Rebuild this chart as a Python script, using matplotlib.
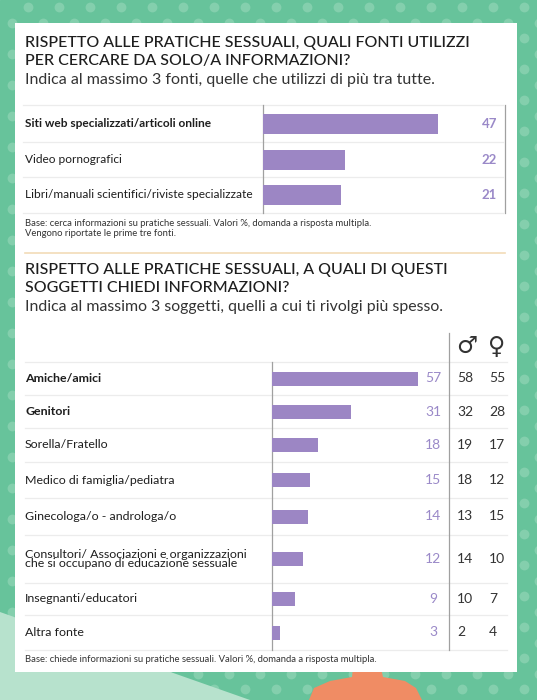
import matplotlib
matplotlib.use("Agg")
import matplotlib.pyplot as plt
from matplotlib.patches import Rectangle, Polygon
import numpy as np

# ---------------- data ----------------
top_categories = [
    "Siti web specializzati/articoli online",
    "Video pornografici",
    "Libri/manuali scientifici/riviste specializzate",
]
top_values = [47, 22, 21]

bottom_categories = [
    "Amiche/amici",
    "Genitori",
    "Sorella/Fratello",
    "Medico di famiglia/pediatra",
    "Ginecologa/o - androloga/o",
    "Consultori/ Associazioni e organizzazioni\nche si occupano di educazione sessuale",
    "Insegnanti/educatori",
    "Altra fonte",
]
bottom_values = [57, 31, 18, 15, 14, 12, 9, 3]
male_values = [58, 32, 19, 18, 13, 14, 10, 2]
female_values = [55, 28, 17, 12, 15, 10, 7, 4]

title1 = ["RISPETTO ALLE PRATICHE SESSUALI, QUALI FONTI UTILIZZI",
          "PER CERCARE DA SOLO/A INFORMAZIONI?"]
subtitle1 = "Indica al massimo 3 fonti, quelle che utilizzi di più tra tutte."
note1 = ["Base: cerca informazioni su pratiche sessuali. Valori %, domanda a risposta multipla.",
         "Vengono riportate le prime tre fonti."]
title2 = ["RISPETTO ALLE PRATICHE SESSUALI, A QUALI DI QUESTI",
          "SOGGETTI CHIEDI INFORMAZIONI?"]
subtitle2 = "Indica al massimo 3 soggetti, quelli a cui ti rivolgi più spesso."
note2 = "Base: chiede informazioni su pratiche sessuali. Valori %, domanda a risposta multipla."

# ---------------- style / layout ----------------
W, H = 537, 700
GREEN = "#67c39b"
DOT = "#84cfad"
LIGHT = "#b7e2cd"
ORANGE = "#f08c64"
PURPLE = "#9c86c4"
VALCOL = "#9a89c8"
TXT = "#1e1e1e"
SEP = "#ececec"
AXC = "#a0a0a0"
FONT = ["Lato", "DejaVu Sans"]
plt.rcParams["font.family"] = FONT

fig = plt.figure(figsize=(W / 100, H / 100), dpi=100)
bg = fig.add_axes([0, 0, 1, 1])
bg.set_xlim(0, W)
bg.set_ylim(H, 0)
bg.axis("off")
bg.add_patch(Rectangle((0, 0), W, H, color=GREEN, zorder=0))

# dotted pattern
xs, ys = [], []
for r, yy in enumerate(np.arange(7, H + 16, 15.5)):
    off = 0 if r % 2 == 0 else -16
    for xx in np.arange(28 + off, W + 32, 31):
        xs.append(xx)
        ys.append(yy)
bg.scatter(xs, ys, s=50, color=DOT, linewidths=0, zorder=1)

bg.add_patch(Polygon([(0, 612), (250, 700), (0, 700)], closed=True, color=LIGHT, zorder=2, lw=0))
bg.add_patch(Polygon([(309, 700), (314, 688), (330, 681), (352, 677), (353, 668),
                      (381, 668), (383, 677), (405, 681), (416, 688), (422, 700)],
                     closed=True, color=ORANGE, zorder=2, lw=0))

# white panel
bg.add_patch(Rectangle((15, 23), 502, 649, color="white", zorder=3, lw=0))


def px_axes(x0, y0, x1, y1):
    return fig.add_axes([x0 / W, 1 - y1 / H, (x1 - x0) / W, (y1 - y0) / H])


def txt(x, y, s, **kw):
    kw.setdefault("color", TXT)
    kw.setdefault("va", "center")
    bg.text(x, y, s, zorder=6, **kw)


# ---------- section 1 ----------
txt(25, 43, title1[0], fontsize=11.5, fontweight="medium")
txt(25, 61, title1[1], fontsize=11.5, fontweight="medium")
txt(25, 80, subtitle1, fontsize=11.5, color="#333333")

b1 = [105, 142, 177, 213]
c1 = [(b1[i] + b1[i + 1]) / 2 for i in range(len(top_values))]
for yb in b1:
    bg.plot([23, 503], [yb, yb], color=SEP, lw=0.9, zorder=4)

ax1 = px_axes(263, 105, 505, 213)
ax1.set_xlim(0, 242 / 3.72)
ax1.set_ylim(213, 105)
ax1.barh(c1, top_values, height=20, color=PURPLE, zorder=3)
ax1.axis("off")
ax1.patch.set_alpha(0)
bg.plot([263, 263], [105, 213], color=AXC, lw=0.9, zorder=5)
bg.plot([505, 505], [105, 213], color=AXC, lw=0.9, zorder=5)

for i, (cat, v) in enumerate(zip(top_categories, top_values)):
    txt(25, c1[i], cat, fontsize=8.6, fontweight="bold" if i == 0 else "normal")
    txt(497, c1[i], f"{v}", fontsize=9.5, ha="right", color=VALCOL, fontweight="bold")

txt(25, 223, note1[0], fontsize=6.8, color="#333333")
txt(25, 234, note1[1], fontsize=6.8, color="#333333")

bg.plot([25, 505], [253, 253], color="#f2dcb8", lw=1.2, zorder=4)

# ---------- section 2 ----------
txt(25, 270, title2[0], fontsize=11.5, fontweight="medium")
txt(25, 288, title2[1], fontsize=11.5, fontweight="medium")
txt(25, 307, subtitle2, fontsize=11.4, color="#333333")

b2 = [362, 395, 428, 462, 498, 535, 583, 615, 650]
c2 = [(b2[i] + b2[i + 1]) / 2 for i in range(len(bottom_values))]
for yb in b2:
    bg.plot([25, 507], [yb, yb], color=SEP, lw=0.9, zorder=4)

ax2 = px_axes(272, 362, 449, 650)
ax2.set_xlim(0, 177 / 2.56)
ax2.set_ylim(650, 362)
ax2.barh(c2, bottom_values, height=14, color=PURPLE, zorder=3)
ax2.axis("off")
ax2.patch.set_alpha(0)
bg.plot([272, 272], [362, 650], color=AXC, lw=0.9, zorder=5)
bg.plot([449, 449], [333, 650], color=AXC, lw=0.9, zorder=5)

txt(467, 346, "\u2642", fontsize=17, ha="center", family="DejaVu Sans", color="#333333")
txt(497, 347, "\u2640", fontsize=17, ha="center", family="DejaVu Sans", color="#333333")

for i, cat in enumerate(bottom_categories):
    txt(25, c2[i], cat, fontsize=8.9, linespacing=0.85,
        fontweight="bold" if i < 2 else "normal")
    txt(433, c2[i], f"{bottom_values[i]}", fontsize=10, ha="center", color=VALCOL)
    txt(457, c2[i], f"{male_values[i]}", fontsize=10, ha="left", color="#333333")
    txt(489, c2[i], f"{female_values[i]}", fontsize=10, ha="left", color="#333333")

txt(25, 660, note2, fontsize=6.8, color="#333333")

fig.savefig("out.png", dpi=100)
